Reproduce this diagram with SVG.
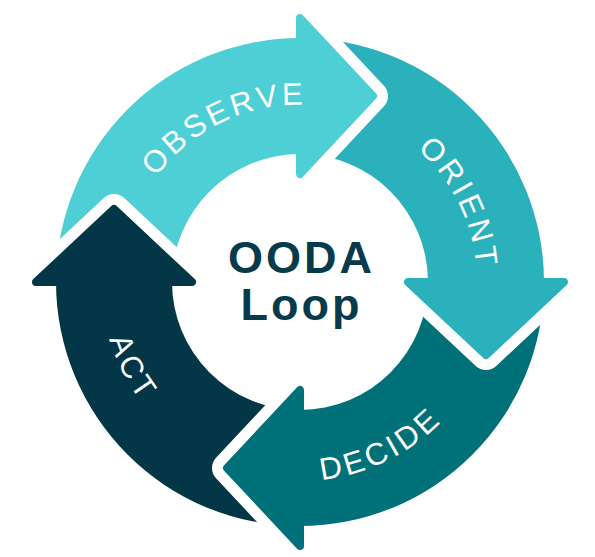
<svg xmlns="http://www.w3.org/2000/svg" width="595" height="557" viewBox="0 0 595 557">
  <style>
    .lbl { font-family: "Liberation Sans", Arial, sans-serif; font-size: 31px; fill: #ffffff; letter-spacing: 3.5px; }
    .title { font-family: "Liberation Sans", Arial, sans-serif; font-size: 45px; font-weight: bold; fill: #073a4a; letter-spacing: 3px; text-anchor: middle; }
    .outline { fill: none; stroke: #ffffff; stroke-width: 30; stroke-linejoin: round; stroke-linecap: round; }
    .head { stroke-width: 8; stroke-linejoin: round; }
    .observe { fill: #4ecfd5; stroke: #4ecfd5; }
    .orient { fill: #2ab1bb; stroke: #2ab1bb; }
    .decide { fill: #007179; stroke: #007179; }
    .act { fill: #033646; stroke: #033646; }
    .body { stroke: none; }
  </style>
  <defs>
    <path id="p-observe" d="M 131.7 224 A 177 177 0 0 1 358 114.7"/>
    <path id="p-orient" d="M 356.8 114.3 A 177 177 0 0 1 467.7 338.8"/>
    <path id="p-decide" d="M 235.5 470.2 A 199 199 0 0 0 488.2 346.5"/>
    <path id="p-act" d="M 110.7 220.8 A 199 199 0 0 0 238.8 471.3"/>
  </defs>
  <rect width="595" height="557" fill="#ffffff"/>

  <g id="bodies">
    <path class="body observe" d="M 56 282 A 244 244 0 0 1 300 38 L 300 154 A 128 128 0 0 0 172 282 Z"/>
    <path class="body orient" d="M 300 38 A 244 244 0 0 1 544 282 L 428 282 A 128 128 0 0 0 300 154 Z"/>
    <path class="body decide" d="M 544 282 A 244 244 0 0 1 300 526 L 300 410 A 128 128 0 0 0 428 282 Z"/>
    <path class="body act" d="M 300 526 A 244 244 0 0 1 56 282 L 172 282 A 128 128 0 0 0 300 410 Z"/>
  </g>

  <g id="observe">
    <path class="outline" d="M 300 18 L 373 96 L 300 174"/>
    <polygon class="head observe" points="300,18 373,96 300,174"/>
    <text class="lbl"><textPath href="#p-observe" startOffset="50%" text-anchor="middle">OBSERVE</textPath></text>
  </g>

  <g id="orient">
    <path class="outline" d="M 564 282 L 486 355 L 408 282"/>
    <polygon class="head orient" points="564,282 486,355 408,282"/>
    <text class="lbl"><textPath href="#p-orient" startOffset="50%" text-anchor="middle">ORIENT</textPath></text>
  </g>

  <g id="decide">
    <path class="outline" d="M 300 546 L 227 468 L 300 390"/>
    <polygon class="head decide" points="300,546 227,468 300,390"/>
    <text class="lbl"><textPath href="#p-decide" startOffset="50%" text-anchor="middle">DECIDE</textPath></text>
  </g>

  <g id="act">
    <path class="outline" d="M 36 282 L 114 209 L 192 282"/>
    <polygon class="head act" points="36,282 114,209 192,282"/>
    <text class="lbl"><textPath href="#p-act" startOffset="50%" text-anchor="middle">ACT</textPath></text>
  </g>

  <g id="center">
    <text class="title" x="301.5" y="273">OODA</text>
    <text class="title" x="301.5" y="320">Loop</text>
  </g>
</svg>
